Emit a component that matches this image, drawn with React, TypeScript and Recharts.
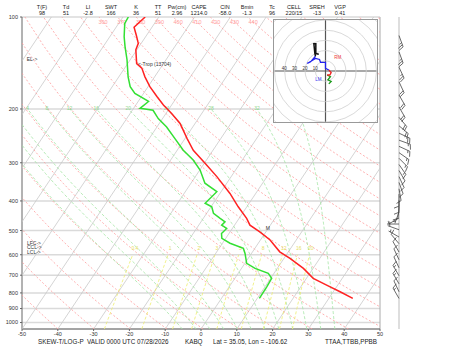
import React from 'react';
import { ScatterChart, Scatter, XAxis, YAxis, CartesianGrid, ReferenceLine, ReferenceDot } from 'recharts';

const FONT = '"Liberation Sans", Arial, sans-serif';

// ---------------- sounding data ----------------
const tempPres = [100, 108, 115, 122, 128, 142, 147, 157, 169, 182, 194, 207, 223, 250, 273, 301, 333, 378, 418, 456, 480, 505, 537, 587, 617, 665, 717, 754, 793, 834];
const tempC = [-73.8, -75.0, -72.8, -70.8, -70.3, -67.5, -65.2, -62.7, -59.5, -55.7, -52.3, -48.4, -44.2, -39.4, -35.5, -29.8, -24.0, -17.2, -12.4, -7.9, -5.7, -1.7, 2.7, 7.6, 11.7, 17.3, 21.9, 26.9, 31.9, 36.7];

const dewPres = [100, 105, 116, 125, 138, 157, 169, 178, 189, 199, 202, 215, 229, 250, 273, 294, 317, 350, 373, 407, 418, 439, 456, 468, 480, 492, 511, 530, 550, 572, 594, 640, 665, 690, 717, 764, 834];
const dewC = [-78.5, -78.3, -76.0, -73.9, -70.9, -67.4, -65.0, -62.4, -57.1, -58.2, -54.2, -51.2, -47.3, -42.8, -38.3, -33.7, -29.9, -26.1, -21.2, -22.3, -19.8, -18.1, -15.3, -13.3, -13.6, -11.6, -12.1, -11.1, -7.9, -3.2, -1.8, 0.5, 3.8, 8.4, 10.3, 10.5, 10.6];

// wind barbs
const barbPres = [115, 130, 146, 163, 180, 197, 213, 227, 240, 253, 265, 278, 290, 304, 318, 333, 348, 365, 380, 398, 417, 435, 455, 476, 497, 525, 552, 588, 623, 662, 703, 747, 793, 834];
const barbDir = [160, 160, 155, 155, 150, 150, 140, 130, 115, 110, 115, 125, 135, 145, 150, 155, 160, 170, 180, 180, 185, 200, 240, 270, 290, 300, 320, 330, 335, 335, 330, 330, 335, 330];
const barbSpd = [25, 25, 25, 20, 20, 20, 20, 20, 20, 15, 15, 15, 15, 15, 10, 10, 10, 10, 10, 10, 10, 5, 5, 5, 5, 5, 10, 10, 10, 10, 15, 15, 10, 15];

// hodograph (u, v in knots)
const hodoGreenU = [3.2, 5.5, 2.3, 4.8, 1.6];
const hodoGreenV = [-12.6, -10.3, -8.7, -5.5, -3.9];
const hodoRedU = [1.6, 4.2, 5.5, 3.2];
const hodoRedV = [-3.9, -3.9, -1.6, 1.0];
const hodoBlueU = [3.2, 0, 0, -4.8, -5.8, -9.7, -17.7, -14.5, -9.7];
const hodoBlueV = [1.0, 2.6, 8.4, 8.4, 11.3, 12.3, 7.4, 9.0, 14.5];
const hodoBlackU = [-9.7, -10.3, -11.3, -9.4, -9.4, -6.5];
const hodoBlackV = [14.5, 17.0, 26.8, 26.8, 17.1, 16.5];
const hodoRings = [10, 20, 30, 40, 50, 60, 70];
const hodoRingLabels = [40, 30, 20, 10];

// axes / guides
const xTicks = [-50, -40, -30, -20, -10, 0, 10, 20, 30, 40, 50];
const pTicks = [100, 200, 300, 400, 500, 600, 700, 800, 900, 1000];
const isotherms = [-100, -90, -80, -70, -60, -50, -40, -30, -20, -10, 0, 10, 20, 30, 40];
const dryThetas = [220, 230, 240, 250, 260, 270, 280, 290, 300, 310, 320, 330, 340, 350, 360, 370, 380, 390, 400, 410, 420, 430, 440, 450, 460, 470, 480, 490, 500, 510];
const dryLabels = [360, 370, 380, 390, 400, 410, 420, 430, 440];
const moistThetaW = [-8, -4, 0, 4, 8, 12, 16, 20, 24, 28, 32, 36];
const mixRatios = [0.4, 1, 2, 3, 5, 8, 12, 16, 20];

const headerLabels = ['T(F)', 'Td', 'LI', 'SWT', 'K', 'TT', 'Pw(cm)', 'CAPE', 'CIN', 'Bmin', 'Tc', 'CELL', 'SREH', 'VGP'];
const headerValues = ['98', '51', '-2.8', '166', '36', '51', '2.96', '1214.0', '-58.0', '-1.3', '96', '220/15', '-13', '0.41'];
const headerCols = [42, 66, 88, 111, 136, 158, 177, 199, 225, 247, 272, 294, 317, 340];

// ---------------- physics helpers ----------------
const SKEW = 57;
const P_BOT = 1050;
const P_TOP = 100;
const skewX = (t: number, p: number) => t + SKEW * Math.log10(P_BOT / p);

const guidePres: number[] = [];
guidePres.push(1050);
for (let p = 1025; p >= 100; p -= 25) guidePres.push(p);

const es = (tc: number) => 6.112 * Math.exp((17.67 * tc) / (tc + 243.5));
const moistLapse = (T: number, p: number) => {
  const Rd = 287.04, Cp = 1005.7, Lv = 2.501e6, eps = 0.622;
  const e = es(T - 273.15);
  const rs = (eps * e) / (p - e);
  return (Rd * T + Lv * rs) / (p * (Cp + (Lv * Lv * rs * eps) / (Rd * T * T)));
};
const moistLine = (thw: number) => {
  const dp = 5;
  let Tb = thw + 273.15;
  for (let p = 1000; p < 1050; p += dp) {
    const k1 = moistLapse(Tb, p);
    const k2 = moistLapse(Tb + k1 * dp, p + dp);
    Tb += ((k1 + k2) / 2) * dp;
  }
  const pts = [{ x: skewX(Tb - 273.15, 1050), p: 1050 }];
  let T = thw + 273.15;
  for (let p = 1000; p >= 200; p -= dp) {
    if (p % 25 === 0) pts.push({ x: skewX(T - 273.15, p), p });
    const k1 = moistLapse(T, p);
    const k2 = moistLapse(T - k1 * dp, p - dp);
    T -= ((k1 + k2) / 2) * dp;
  }
  return pts;
};
const tdFromR = (r: number, p: number) => {
  const e = (r * p) / (622 + r);
  const l = Math.log(e / 6.112);
  return (243.5 * l) / (17.67 - l);
};
const dryT = (theta: number, p: number) => theta * Math.pow(p / 1000, 0.2857) - 273.15;

// ---------------- series ----------------
const tempPts = tempPres.map((p, i) => ({ x: skewX(tempC[i], p), p }));
const dewPts = dewPres.map((p, i) => ({ x: skewX(dewC[i], p), p }));
const barbData = barbPres.map((p, i) => ({ x: 0, p, dir: barbDir[i], spd: barbSpd[i] }));
const zipUV = (u: number[], v: number[]) => u.map((uu, i) => ({ u: uu, v: v[i] }));

const EmptyShape = () => <g />;

const lineSeries = (key: string, pts: any[], stroke: string, width: number, dash?: string) => (
  <Scatter
    key={key}
    data={pts}
    shape={EmptyShape}
    stroke={stroke}
    fill={stroke}
    line={{ stroke, strokeWidth: width, strokeDasharray: dash, fill: 'none' }}
    isAnimationActive={false}
    legendType="none"
  />
);

const textSeries = (
  key: string,
  x: number,
  p: number,
  text: string,
  fill: string,
  size: number,
  anchor: 'start' | 'middle' | 'end' = 'middle',
  dx = 0,
  dy = 0,
) => (
  <Scatter
    key={key}
    data={[{ x, p }]}
    isAnimationActive={false}
    legendType="none"
    shape={(props: any) => (
      <text
        x={props.cx + dx}
        y={props.cy + dy}
        fill={fill}
        fontSize={size}
        fontFamily={FONT}
        textAnchor={anchor}
        dominantBaseline="middle"
      >
        {text}
      </text>
    )}
  />
);

const BarbShape = (props: any) => {
  const { cx, cy, payload } = props;
  if (cx == null || cy == null) return <g />;
  const a = (payload.dir * Math.PI) / 180;
  const ux = Math.sin(a);
  const uy = -Math.cos(a);
  const L = 12;
  const ex = cx + ux * L;
  const ey = cy + uy * L;
  const px = -uy;
  const py = ux;
  const parts: React.ReactNode[] = [<line key="s" x1={cx} y1={cy} x2={ex} y2={ey} />];
  let spd = Math.round(payload.spd / 5) * 5;
  let pos = 0;
  let n = 0;
  while (spd >= 10) {
    const bx = ex - ux * pos;
    const by = ey - uy * pos;
    parts.push(<line key={'f' + n} x1={bx} y1={by} x2={bx + px * 5 + ux * 2} y2={by + py * 5 + uy * 2} />);
    pos += 2.2;
    spd -= 10;
    n++;
  }
  if (spd >= 5) {
    if (pos === 0) pos = 2.2;
    const bx = ex - ux * pos;
    const by = ey - uy * pos;
    parts.push(<line key="h" x1={bx} y1={by} x2={bx + px * 2.5 + ux * 1} y2={by + py * 2.5 + uy * 1} />);
  }
  return (
    <g stroke="#444" strokeWidth={0.8} fill="none">
      {parts}
    </g>
  );
};

const tickStyle = { fontSize: 5.5, fill: '#333', fontFamily: FONT };

export default function App() {
  const isoSeries = isotherms.map((t) =>
    lineSeries('iso' + t, [{ x: skewX(t, P_BOT), p: P_BOT }, { x: skewX(t, P_TOP), p: P_TOP }], '#c9c9c9', 0.8),
  );
  const drySeries = dryThetas.map((th) =>
    lineSeries('dry' + th, guidePres.map((p) => ({ x: skewX(dryT(th, p), p), p })), '#ff9c9c', 0.8, '2 2'),
  );
  const moistData = moistThetaW.map((w) => moistLine(w));
  const moistSeries = moistData.map((pts, i) => lineSeries('moist' + i, pts, '#a6e6a6', 0.8, '3 2'));
  const mixPres = [1050, 1000, 900, 800, 700, 600];
  const mixSeries = mixRatios.map((r) =>
    lineSeries('mix' + r, mixPres.map((p) => ({ x: skewX(tdFromR(r, p), p), p })), '#eeee70', 0.8, '3 2'),
  );

  const dryLabelSeries = dryLabels.map((th) =>
    textSeries('dl' + th, skewX(dryT(th, 104), 104), 104, String(th), '#ff9c9c', 5.5),
  );
  const moistLabelSeries = moistData
    .map((pts, i) => ({ pt: pts[pts.length - 1], w: moistThetaW[i] }))
    .filter((o) => o.pt.x > -49 && o.pt.x < 49)
    .map((o) => textSeries('ml' + o.w, o.pt.x, 200, String(o.w), '#8fd88f', 5));
  const mixLabelSeries = mixRatios.map((r) =>
    textSeries('xl' + r, skewX(tdFromR(r, 575), 575), 575, String(r), '#e6e060', 5),
  );

  return (
    <div style={{ position: 'absolute', left: 0, top: 0, width: 450, height: 346, background: '#fff', overflow: 'hidden' }}>
      <ScatterChart width={450} height={346} margin={{ top: 17, right: 70, bottom: 3, left: 0 }}>
        <CartesianGrid vertical={false} stroke="#dadada" strokeWidth={1.5} />
        <XAxis
          type="number"
          dataKey="x"
          domain={[-50, 50]}
          ticks={xTicks}
          interval={0}
          allowDataOverflow
          height={14}
          tick={tickStyle}
          tickSize={2}
          tickMargin={1}
          stroke="#666"
        />
        <YAxis
          type="number"
          dataKey="p"
          scale="log"
          domain={[100, 1050]}
          reversed
          ticks={pTicks}
          interval={0}
          allowDataOverflow
          width={22}
          tick={tickStyle}
          tickSize={2}
          tickMargin={2}
          stroke="#666"
        />
        {isoSeries}
        {drySeries}
        {moistSeries}
        {mixSeries}
        {dryLabelSeries}
        {moistLabelSeries}
        {mixLabelSeries}
        <ReferenceLine x={50} stroke="#aaa" strokeWidth={1} />
        {lineSeries('dew', dewPts, '#33e033', 1.5)}
        {lineSeries('temp', tempPts, '#ff2222', 1.5)}
        {textSeries('el', -48.7, 138, 'EL->', '#333', 5, 'start')}
        {textSeries('lfc', -48.6, 550, 'LFC->', '#333', 5, 'start')}
        {textSeries('ccl', -48.6, 569, 'CCL->', '#333', 5, 'start')}
        {textSeries('lcl', -48.6, 589, 'LCL->', '#333', 5, 'start')}
        {textSeries('trop', -17.6, 143.6, '<-Trop (13704)', '#333', 5, 'start')}
        {textSeries('m', 18.7, 494, 'M', '#333', 5, 'middle')}
      </ScatterChart>

      {/* wind barbs column */}
      <div style={{ position: 'absolute', left: 380, top: 0 }}>
        <ScatterChart width={70} height={346} margin={{ top: 17, right: 0, bottom: 17, left: 0 }}>
          <XAxis type="number" dataKey="x" domain={[-19, 51]} hide allowDataOverflow />
          <YAxis type="number" dataKey="p" scale="log" domain={[100, 1050]} reversed hide allowDataOverflow />
          <ReferenceLine x={0} stroke="#c8c8c8" strokeWidth={1.2} />
          <Scatter data={barbData} shape={BarbShape} isAnimationActive={false} legendType="none" />
        </ScatterChart>
      </div>

      {/* hodograph inset */}
      <div
        style={{
          position: 'absolute',
          left: 273,
          top: 19,
          width: 105,
          height: 104,
          boxSizing: 'border-box',
          border: '1px solid #999',
          background: '#fff',
          overflow: 'hidden',
        }}
      >
        <ScatterChart width={103} height={102} margin={{ top: 0, right: 0, bottom: 0, left: 0 }}>
          <XAxis type="number" dataKey="u" domain={[-50, 50]} hide allowDataOverflow />
          <YAxis type="number" dataKey="v" domain={[-50, 50]} hide allowDataOverflow />
          {hodoRings.map((r) => (
            <ReferenceDot key={'ring' + r} x={0} y={0} r={r * 1.02} fill="none" stroke="#cfcfcf" strokeWidth={0.8} />
          ))}
          <ReferenceLine x={0} stroke="#555" strokeWidth={1.2} />
          <ReferenceLine y={0} stroke="#555" strokeWidth={1.2} />
          {hodoRingLabels.map((r) => (
            <Scatter
              key={'rl' + r}
              data={[{ u: -r, v: 2.5 }]}
              isAnimationActive={false}
              legendType="none"
              shape={(props: any) => (
                <text x={props.cx} y={props.cy} fontSize={4.5} fill="#333" fontFamily={FONT} textAnchor="middle" dominantBaseline="middle">
                  {r}
                </text>
              )}
            />
          ))}
          <Scatter data={zipUV(hodoGreenU, hodoGreenV)} shape={EmptyShape} line={{ stroke: '#1a9a1a', strokeWidth: 1.3 }} isAnimationActive={false} legendType="none" />
          <Scatter data={zipUV(hodoRedU, hodoRedV)} shape={EmptyShape} line={{ stroke: '#ee2222', strokeWidth: 1.3 }} isAnimationActive={false} legendType="none" />
          <Scatter data={zipUV(hodoBlueU, hodoBlueV)} shape={EmptyShape} line={{ stroke: '#2222ee', strokeWidth: 1.3 }} isAnimationActive={false} legendType="none" />
          <Scatter data={zipUV(hodoBlackU, hodoBlackV)} shape={EmptyShape} line={{ stroke: '#111', strokeWidth: 1.5 }} isAnimationActive={false} legendType="none" />
          <Scatter
            data={[{ u: 12, v: 12.6 }]}
            isAnimationActive={false}
            legendType="none"
            shape={(props: any) => (
              <text x={props.cx} y={props.cy} fontSize={4.5} fill="#ee3333" fontFamily={FONT} textAnchor="middle" dominantBaseline="middle">
                RM
              </text>
            )}
          />
          <Scatter
            data={[{ u: -7, v: -8.7 }]}
            isAnimationActive={false}
            legendType="none"
            shape={(props: any) => (
              <text x={props.cx} y={props.cy} fontSize={4.5} fill="#3333ee" fontFamily={FONT} textAnchor="middle" dominantBaseline="middle">
                LM
              </text>
            )}
          />
        </ScatterChart>
      </div>

      {/* header and footer text */}
      <svg width={450} height={346} style={{ position: 'absolute', left: 0, top: 0, pointerEvents: 'none' }}>
        {headerLabels.map((t, i) => (
          <text key={'hl' + i} x={headerCols[i]} y={9} fontSize={5.5} fill="#222" fontFamily={FONT} textAnchor="middle">
            {t}
          </text>
        ))}
        {headerValues.map((t, i) => (
          <text key={'hv' + i} x={headerCols[i]} y={15} fontSize={5.5} fill="#222" fontFamily={FONT} textAnchor="middle">
            {t}
          </text>
        ))}
        <text x={38} y={344} fontSize={6.3} fill="#222" fontFamily={FONT}>SKEW-T/LOG-P</text>
        <text x={87} y={344} fontSize={6.3} fill="#222" fontFamily={FONT}>VALID 0000 UTC 07/28/2026</text>
        <text x={185} y={344} fontSize={6.3} fill="#222" fontFamily={FONT}>KABQ</text>
        <text x={213} y={344} fontSize={6.3} fill="#222" fontFamily={FONT}>Lat = 35.05, Lon = -106.62</text>
        <text x={325} y={344} fontSize={6.3} fill="#222" fontFamily={FONT}>TTAA,TTBB,PPBB</text>
      </svg>
    </div>
  );
}
